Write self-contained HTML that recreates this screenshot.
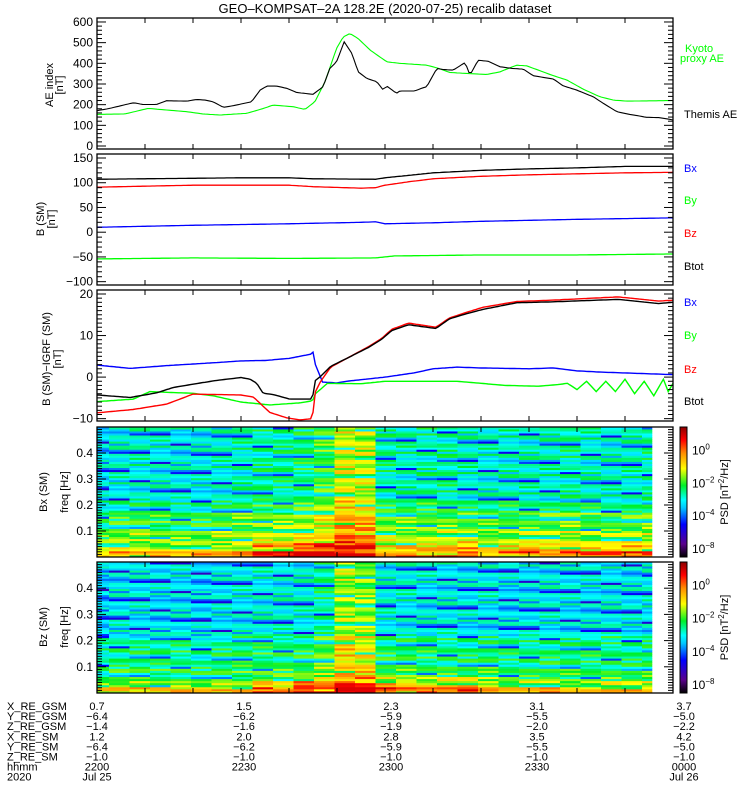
<!DOCTYPE html>
<html><head><meta charset="utf-8"><style>
html,body{margin:0;padding:0;background:#fff;}
svg{display:block;font-family:"Liberation Sans",sans-serif;}
text{font-family:"Liberation Sans",sans-serif;}
</style></head><body>
<svg id="chart" width="750" height="800" viewBox="0 0 750 800" xmlns="http://www.w3.org/2000/svg">
<rect x="0" y="0" width="750" height="800" fill="#fff"/>
<text x="385" y="13" font-size="13" text-anchor="middle">GEO–KOMPSAT–2A 128.2E (2020-07-25) recalib dataset</text>
<g id="plots"></g>
<text transform="translate(53,85) rotate(-90)" font-size="11" text-anchor="middle">AE index</text>
<text transform="translate(63,85) rotate(-90)" font-size="11" text-anchor="middle">[nT]</text>
<text transform="translate(44,219) rotate(-90)" font-size="11" text-anchor="middle">B (SM)</text>
<text transform="translate(55,219) rotate(-90)" font-size="11" text-anchor="middle">[nT]</text>
<text transform="translate(50,359) rotate(-90)" font-size="11" text-anchor="middle">B (SM)−IGRF (SM)</text>
<text transform="translate(61,359) rotate(-90)" font-size="11" text-anchor="middle">[nT]</text>
<text transform="translate(47,492) rotate(-90)" font-size="11" text-anchor="middle">Bx (SM)</text>
<text transform="translate(68,492) rotate(-90)" font-size="11" text-anchor="middle">freq [Hz]</text>
<text transform="translate(47,627) rotate(-90)" font-size="11" text-anchor="middle">Bz (SM)</text>
<text transform="translate(68,627) rotate(-90)" font-size="11" text-anchor="middle">freq [Hz]</text>
<g font-size="11">
<text x="685" y="52" fill="#00ff00">Kyoto</text>
<text x="680" y="62" fill="#00ff00">proxy AE</text>
<text x="684" y="118" fill="#000">Themis AE</text>
</g>
<g font-size="11">
<text x="684" y="172" fill="#0000ff">Bx</text>
<text x="684" y="204" fill="#00ff00">By</text>
<text x="684" y="237" fill="#ff0000">Bz</text>
<text x="684" y="270" fill="#000">Btot</text>
</g>
<g font-size="11">
<text x="684" y="306" fill="#0000ff">Bx</text>
<text x="684" y="339" fill="#00ff00">By</text>
<text x="684" y="373" fill="#ff0000">Bz</text>
<text x="684" y="405" fill="#000">Btot</text>
</g>
<g font-size="11" id="eph"></g>
</svg>
<script>
const aeThemisT = [0,2.7,5.5,7.6,9.6,12.4,14.5,18.7,20.8,22.5,24.2,26.3,28.4,32.2,34,35.4,37.4,39.5,41.6,45,47.1,48.5,49.9,51.5,53.1,54.4,56.2,58.3,59.5,60.5,62.4,63.1,66.2,67.6,68.7,70.8,72.1,74.2,76.7,77.7,79.4,81.5,84,86.7,88.8,90.9,95.1,97.1,99.9,103.4,105.5,108.3,111,114.5,117.3,120];
const aeThemisV = [171,182,198,209,201,201,219,217,225,222,214,187,195,214,271,290,290,279,259,250,287,375,407,504,448,359,327,311,275,288,255,266,266,279,287,375,370,367,404,343,415,410,383,375,372,340,324,291,271,238,206,166,153,139,137,126];
const aeKyotoT = [0,5.8,10.7,14.5,18.7,22.1,25.6,31.2,34.7,36.7,40.9,43.3,45.4,47.5,49.9,51.3,52.7,54.4,56.9,60.4,63.1,68.7,70.8,73.5,77,81.2,84,87.4,89.5,95.1,97.9,101.3,104.8,107.6,110.4,120];
const aeKyotoV = [153,155,182,174,166,155,150,158,182,198,190,177,214,311,472,528,544,520,464,407,400,391,378,356,351,346,359,391,388,340,319,275,238,222,217,220];
const aeTicks = [0,100,200,300,400,500,600];
const bsmBtotT = [0,10,30,40,45,58,60,65,70,80,90,100,110,120];
const bsmBtotV = [107,108,110,110,108,107,110,115,120,125,128,130,133,133];
const bsmBzT = [0,10,20,40,45,55,58,60,65,70,80,90,100,110,120];
const bsmBzV = [91,93,95,95,92,89,90,95,102,108,113,116,118,120,121];
const bsmBxT = [0,20,40,55,58,60,70,80,100,120];
const bsmBxV = [10,14,17,20,21,17,19,22,26,29];
const bsmByT = [0,20,40,58,62,80,100,120];
const bsmByV = [-54,-52,-53,-52,-48,-46,-46,-44];
const bsmTicks = [150,100,50,0,-50,-100];
const digBtotT = [0,6.9,12.4,15.9,20,24.9,30,31.9,33.3,34.6,36.7,40.2,44.9,45.3,46.6,48.7,52.2,56.5,59.3,61.4,64.9,70.6,73.4,76.2,80.4,87.5,94.5,108.6,117,120];
const digBtotV = [-4.3,-4.9,-3.8,-2.5,-1.7,-0.8,-0.1,-0.5,-1.5,-3.9,-4.2,-5.3,-5.3,-1,0.2,2.6,4.6,7.1,9.1,11.2,12.6,11.7,14,15,16.3,17.9,18.1,18.7,17.7,18];
const digBzT = [0,7.5,14.5,20,30,32.6,34.6,36,39.5,42.3,44.9,45.3,46.6,48.7,52.2,56.5,59.3,61.4,64.9,70.6,73.4,76.2,80.4,87.5,94.5,108.6,117,120];
const digBzV = [-8.6,-7.8,-6.5,-4.1,-4.3,-4.8,-7,-8.5,-9.8,-10.3,-10,-4,-1,2.4,4.6,7.3,9.3,11.5,13,12,14.2,15.3,16.8,18.2,18.5,19.3,18.3,18.5];
const digBxT = [0,6.9,15,25,30,35,40,44.5,45,45.5,47,50,52,56,60,66,70,75,80,90,95,100,105,110,115,120];
const digBxV = [2.9,2.1,2.8,3.5,3.9,4,4.5,5.5,6,3,-1.2,-1.4,-1,-0.5,0,1,2,2.4,2.2,2,2.2,1.5,1.2,1,0.8,0.6];
const digByT = [0,7.6,11,20,24.2,30,36,42.3,44.9,45.5,48,55,60,75,85,92,96,98,100,102,104,106,108,110,112,114,116,118,119,120];
const digByV = [-5.9,-5.3,-3.5,-3.9,-4.5,-6,-6.7,-6.2,-5.7,-4,-1.5,-1.6,-1,-1,-2,-2.2,-1.8,-1.5,-3,-1,-3.5,-1,-3.5,-0.5,-4,-1,-4.5,-0.5,-3.5,-1.5];
const digTicks = [20,10,0,-10];
const specColT = [0,2.5,6.77,11.04,15.31,19.58,23.85,28.13,32.4,36.67,40.94,45.21,49.48,53.75,58.02,62.29,66.56,70.83,75.1,79.38,83.65,87.92,92.19,96.46,100.73,105,109.27,113.54,115.6];
const bxColLevel = [0.4,0.43,0.44,0.43,0.42,0.42,0.44,0.46,0.48,0.48,0.5,0.55,0.66,0.64,0.47,0.46,0.47,0.47,0.45,0.44,0.45,0.45,0.45,0.47,0.45,0.44,0.45,0.47];
const bxLowBoost = [0,0,0,0,0,0,0,0,0.08,0.05,0.12,0.12,0.05,0.04,0,0.05,0.02,0.04,0.08,0.02,0.03,0.08,0.03,0.05,0.03,0.06,0.05,0.03];
const bzColLevel = [0.38,0.41,0.41,0.4,0.41,0.39,0.41,0.42,0.43,0.43,0.43,0.48,0.62,0.6,0.43,0.43,0.42,0.42,0.41,0.42,0.4,0.41,0.42,0.41,0.41,0.42,0.41,0.42];
const bzLowBoost = [0,0,0,0,0,0,0,0,0.1,0.05,0.16,0.12,0.06,0.06,0.12,0.1,0.08,0.1,0.12,0.05,0.02,0.02,0.02,0,0,0.02,0.02,0.02];
const specFreqEdges = [0,0.02,0.05,0.1,0.17,0.22,0.5];
const bxFreqBoost = [0.32,0.22,0.16,0.11,0.05,0];
const bzFreqBoost = [0.3,0.19,0.12,0.09,0.07,0];
const specTexture = [0.03,-0.05,0.08,-0.02,0.1,-0.09,0.02,-0.04,0.06,-0.2,0.04,-0.07,0.09,0,-0.03,0.07,-0.1,0.05,-0.01,0.08,-0.06,0.03,-0.22,0.06,-0.04,0.1,-0.08,0.01,0.05,-0.03,0.07,-0.09,0.02,0.09,-0.05,-0.16,0.04];
const specFreqTicks = [0.1,0.2,0.3,0.4];
const cbarLabels = ["0","−2","−4","−8"];
const ephRows = [["X_RE_GSM","0.7","1.5","2.3","3.1","3.7"],["Y_RE_GSM","−6.4","−6.2","−5.9","−5.5","−5.0"],["Z_RE_GSM","−1.4","−1.6","−1.9","−2.0","−2.2"],["X_RE_SM","1.2","2.0","2.8","3.5","4.2"],["Y_RE_SM","−6.4","−6.2","−5.9","−5.5","−5.0"],["Z_RE_SM","−1.0","−1.0","−1.0","−1.0","−1.0"],["hhmm","2200","2230","2300","2330","0000"],["2020","Jul 25","","","","Jul 26"]];

const NS = "http://www.w3.org/2000/svg";
const root = document.getElementById('plots');
function mk(tag, attrs, parent){const e=document.createElementNS(NS,tag);for(const k in attrs)e.setAttribute(k,attrs[k]);(parent||root).appendChild(e);return e;}
const X0=97, X1=673;
function xOf(m){return X0 + m*(X1-X0)/120;}
function interp(T,V,t){if(t<=T[0])return V[0];for(let i=1;i<T.length;i++){if(t<=T[i]){const f=(t-T[i-1])/(T[i]-T[i-1]);return V[i-1]+f*(V[i]-V[i-1]);}}return V[V.length-1];}
function linePath(T,V,yf){let d='';for(let t=0;t<=120.001;t+=0.5){const x=xOf(t),y=yf(interp(T,V,t));d+=(d?'L':'M')+x.toFixed(1)+' '+y.toFixed(1);}return d;}

const panels = [
 {name:'ae',top:18,bot:149,y:v=>146-v*0.2067},
 {name:'b-sm',top:154,bot:285,y:v=>232.2-v*0.4947},
 {name:'b-igrf',top:290,bot:421,y:v=>377.1-v*4.155},
 {name:'bx-spec',top:427,bot:557,y:f=>557-f*260},
 {name:'bz-spec',top:562,bot:693,y:f=>693-f*262}
];

const cmStops=[[0,0,0,0],[0.1,90,0,140],[0.25,0,0,255],[0.38,0,200,255],[0.44,0,255,255],[0.55,0,240,40],[0.68,255,255,0],[0.8,255,140,0],[0.9,255,0,0],[1,140,0,0]];
function cmap(v){v=Math.max(0,Math.min(1,v));for(let i=1;i<cmStops.length;i++){if(v<=cmStops[i][0]){const a=cmStops[i-1],b=cmStops[i],f=(v-a[0])/(b[0]-a[0]);return 'rgb('+[1,2,3].map(k=>Math.round(a[k]+f*(b[k]-a[k]))).join(',')+')';}}return 'rgb(140,0,0)';}

function drawSpec(p, colLevel, lowBoost, freqBoost, seed){
  const g=mk('g',{});
  
  
  const nRows=64, df=0.5/nRows;
  for(let c=0;c<colLevel.length;c++){
    const x0=xOf(specColT[c]), x1=xOf(specColT[c+1]);
    for(let r=0;r<nRows;r++){
      const f=r*df+df/2;
      let fb=0;for(let k=0;k<freqBoost.length;k++){if(f>=specFreqEdges[k]&&f<specFreqEdges[k+1])fb=freqBoost[k];}
      let v=colLevel[c]+fb+(f<0.06?lowBoost[c]:0)+specTexture[(r*7+c*11+seed)%specTexture.length];
      v=Math.min(v,0.93);
      const y1=p.y(r*df), y0=p.y((r+1)*df);
      const rc=mk('rect',{x:x0.toFixed(2),y:y0.toFixed(2),width:(x1-x0+0.4).toFixed(2),height:(y1-y0+0.4).toFixed(2),fill:cmap(v)},g);
      
      
    }
  }
}
drawSpec(panels[3], bxColLevel, bxLowBoost, bxFreqBoost, 0);
drawSpec(panels[4], bzColLevel, bzLowBoost, bzFreqBoost, 5);

function series(T,V,p,color,w,name){
  const pa=mk('path',{d:linePath(T,V,p.y),fill:'none',stroke:color,'stroke-width':w});
  
  
}
series(aeKyotoT,aeKyotoV,panels[0],'#00ff00',1.1,'kyoto-ae-line');
series(aeThemisT,aeThemisV,panels[0],'#000',1.1,'themis-ae-line');
series(bsmBtotT,bsmBtotV,panels[1],'#000',1.3,'btot-line');
series(bsmBzT,bsmBzV,panels[1],'#ff0000',1.3,'bz-line');
series(bsmBxT,bsmBxV,panels[1],'#0000ff',1.3,'bx-line');
series(bsmByT,bsmByV,panels[1],'#00ff00',1.3,'by-line');
series(digBxT,digBxV,panels[2],'#0000ff',1.4,'bx-igrf-line');
series(digByT,digByV,panels[2],'#00ff00',1.4,'by-igrf-line');
series(digBzT,digBzV,panels[2],'#ff0000',1.4,'bz-igrf-line');
series(digBtotT,digBtotV,panels[2],'#000',1.4,'btot-igrf-line');

function tick(x1,y1,x2,y2){const l=mk('line',{x1:x1,y1:y1,x2:x2,y2:y2,stroke:'#000','stroke-width':1});}
function ylabel(txt,y,name){const t=mk('text',{x:93,y:(y+4).toFixed(1),'font-size':12,'text-anchor':'end'});t.textContent=txt;}
function yTicks(p,lo,hi,minorStep,majors,fmt){
  for(let v=lo;v<=hi+1e-9;v+=minorStep){const y=p.y(v);if(y<p.top-0.5||y>p.bot+0.5)continue;const isMaj=majors.some(m=>Math.abs(m-v)<1e-6);const L=isMaj?9:5;tick(X0,y,X0+L,y);tick(X1,y,X1-L,y);}
  majors.forEach(m=>ylabel(fmt(m),p.y(m),p.name+'-tick-label'));
}
panels.forEach(p=>{
  const r=mk('rect',{x:X0,y:p.top,width:X1-X0,height:p.bot-p.top,fill:'none',stroke:'#000','stroke-width':1.3});
  
  
  for(let m=10;m<120;m+=10){const x=xOf(m);tick(x,p.top,x,p.top+5);tick(x,p.bot,x,p.bot-5);}
});
const neg=s=>String(s).replace('-','−');
yTicks(panels[0],0,600,20,aeTicks,v=>neg(v));
yTicks(panels[1],-100,150,10,bsmTicks,v=>neg(v));
yTicks(panels[2],-10,20,1,digTicks,v=>neg(v));
yTicks(panels[3],0,0.5,0.01,specFreqTicks,v=>v.toFixed(1));
yTicks(panels[4],0,0.5,0.01,specFreqTicks,v=>v.toFixed(1));

const defs=mk('defs',{});
const lg=mk('linearGradient',{id:'cbg',x1:0,y1:1,x2:0,y2:0},defs);
cmStops.forEach(s=>{mk('stop',{offset:s[0],'stop-color':'rgb('+s[1]+','+s[2]+','+s[3]+')'},lg);});
[panels[3],panels[4]].forEach((p,i)=>{
  const cb=mk('rect',{x:680,y:p.top,width:7,height:p.bot-p.top,fill:'url(#cbg)',stroke:'#000','stroke-width':1});
  
  
  const h=p.bot-p.top;
  cbarLabels.forEach((e,k)=>{
    const y=p.top+h*(0.18+k*0.253)+4;
    const t=mk('text',{x:692,y:y.toFixed(1),'font-size':12});
    t.textContent='10';
    const s=mk('tspan',{dy:-5,'font-size':8},t);s.textContent=e;
    
    
  });
  const tt=mk('text',{transform:'translate(728,'+(p.top+h/2)+') rotate(-90)','font-size':11,'text-anchor':'middle'});
  tt.textContent='PSD [nT';
  const sp=mk('tspan',{dy:-4,'font-size':8},tt);sp.textContent='2';
  const sp2=mk('tspan',{dy:4},tt);sp2.textContent='/Hz]';
  
  
});

const eph=document.getElementById('eph');
const colX=[97,244,391,537,684];
ephRows.forEach((row,ri)=>{
  const y=710+ri*10.1;
  const lab=mk('text',{x:7,y:y.toFixed(1)},eph);lab.textContent=row[0];
  
  
  for(let c=1;c<row.length;c++){if(!row[c])continue;
    const t=mk('text',{x:colX[c-1],y:y.toFixed(1),'text-anchor':'middle'},eph);t.textContent=row[c];
    
    
  }
});
</script>
</body></html>
